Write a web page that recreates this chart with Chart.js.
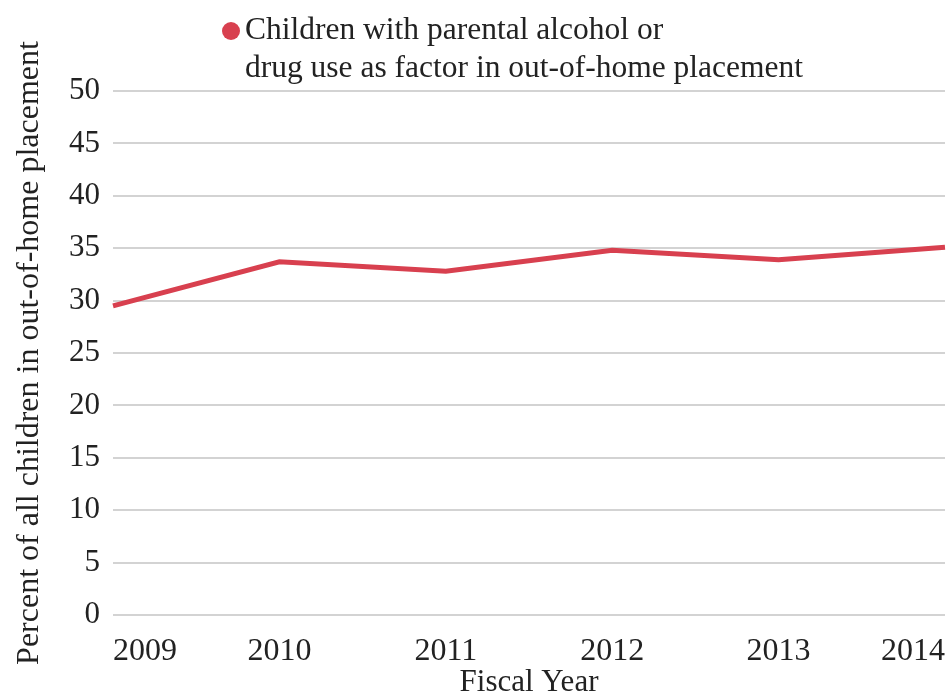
<!DOCTYPE html>
<html>
<head>
<meta charset="utf-8">
<script src="https://cdn.jsdelivr.net/npm/chart.js@4.4.0/dist/chart.umd.min.js"></script>
<style>
  html, body { margin: 0; padding: 0; background: #fff; }
  #wrap { width: 952px; height: 694px; }
</style>
</head>
<body>
<div id="wrap"><canvas id="chart" width="952" height="694"></canvas></div>
<script>
// Chart data
const years = ['2009', '2010', '2011', '2012', '2013', '2014'];
const percentValues = [29.5, 33.7, 32.8, 34.8, 33.9, 35.1];
const seriesName = ['Children with parental alcohol or', 'drug use as factor in out-of-home placement'];
const yTitle = 'Percent of all children in out-of-home placement';
const xTitle = 'Fiscal Year';

const lineColor = '#d8404f';
const fontFamily = '"Liberation Serif", serif';

// Two-line legend drawn above the plot
const twoLineLegend = {
    id: 'twoLineLegend',
    afterDraw(chart) {
        const ctx = chart.ctx;
        ctx.save();
        ctx.fillStyle = lineColor;
        ctx.beginPath();
        ctx.arc(231, 31, 9, 0, Math.PI * 2);
        ctx.fill();
        ctx.fillStyle = '#222';
        ctx.font = '31.5px ' + fontFamily;
        ctx.textBaseline = 'alphabetic';
        seriesName.forEach((line, i) => {
            ctx.fillText(line, 245, 39 + i * 38);
        });
        ctx.restore();
    }
};

const ctx = document.getElementById('chart').getContext('2d');
const chart = new Chart(ctx, {
    type: 'line',
    data: {
        labels: years,
        datasets: [{
            label: seriesName.join(' '),
            data: percentValues,
            borderColor: lineColor,
            backgroundColor: lineColor,
            borderWidth: 5,
            pointRadius: 0,
            tension: 0,
            fill: false
        }]
    },
    options: {
        responsive: false,
        animation: false,
        layout: {
            padding: { top: 91, right: 7, left: 10, bottom: 0 }
        },
        plugins: {
            legend: { display: false },
            tooltip: { enabled: false }
        },
        scales: {
            x: {
                offset: false,
                grid: { display: false, drawTicks: false },
                border: { display: false },
                ticks: {
                    align: 'inner',
                    color: '#222',
                    padding: 17,
                    maxRotation: 0,
                    font: { family: fontFamily, size: 32 }
                },
                title: {
                    display: true,
                    text: xTitle,
                    color: '#222',
                    padding: 0,
                    font: { family: fontFamily, size: 31, lineHeight: 0.7 }
                },
                afterFit(scale) {
                    scale.height = 79;
                    scale.paddingLeft = 0;
                    scale.paddingRight = 0;
                }
            },
            y: {
                min: 0,
                max: 50,
                ticks: {
                    stepSize: 5,
                    color: '#222',
                    padding: 13,
                    font: { family: fontFamily, size: 31 }
                },
                grid: { color: '#d3d3d3', lineWidth: 2, drawTicks: false },
                border: { display: false },
                title: {
                    display: true,
                    text: yTitle,
                    color: '#222',
                    padding: 0,
                    font: { family: fontFamily, size: 32 }
                },
                afterFit(scale) { scale.width = 103; }
            }
        }
    },
    plugins: [twoLineLegend]
});
</script>
</body>
</html>
